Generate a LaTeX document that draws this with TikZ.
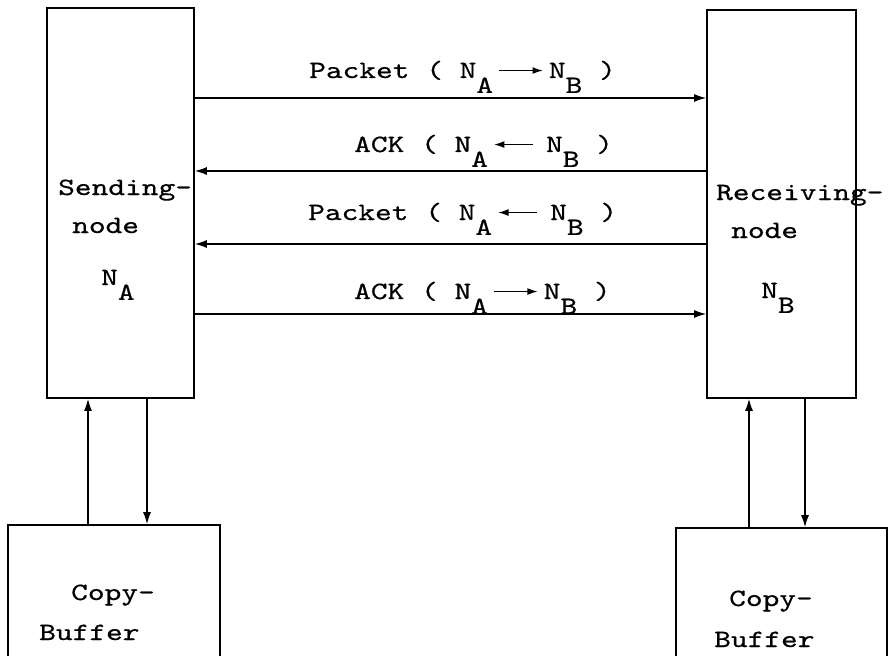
\documentclass[tikz,border=0pt]{standalone}
\usepackage{fontspec}
\setmonofont{lmmono10-regular.otf}[FakeBold=0.5]
\usepackage{graphicx}
\usetikzlibrary{arrows.meta,positioning}
\newcommand{\tw}[1]{\scalebox{1.28}[1]{#1}}
\newcommand{\lowsub}[1]{\raisebox{-0.6em}{#1}}
\newcommand{\rarr}{\,\tikz[baseline=-0.3em]\draw[-{Latex[length=8pt,width=7pt]}, line width=1.3pt] (0pt,0pt) -- (34pt,0pt);\,}
\newcommand{\larr}{\,\tikz[baseline=-0.3em]\draw[{Latex[length=8pt,width=7pt]}-, line width=1.3pt] (0pt,0pt) -- (30pt,0pt);\hspace{0.4em}}

\begin{document}
\begin{tikzpicture}[
    x=1pt, y=-1pt,
    box/.style={
        draw,
        line width=1.6pt,
        inner sep=0pt
    },
    txt/.style={
        font=\ttfamily\fontsize{24.88}{30}\selectfont,
        inner sep=0pt,
        anchor=base west
    },
    arrow/.style={-{Latex[length=12pt,width=8pt]}, line width=1.4pt}
]
    \clip (0,0) rectangle (890,655);

    % station boxes
    \node[box, minimum width=147pt, minimum height=390pt] (send) at (120.5,203) {};
    \node[box, minimum width=149pt, minimum height=388pt] (recv) at (781.5,204) {};
    \node[box, minimum width=212pt, minimum height=200pt] (bufA) at (114,625) {};
    \node[box, minimum width=211pt, minimum height=200pt] (bufB) at (781.5,628) {};

    \node[txt] (sendname) at (58,195) {\tw{Sending-}};
    \node[txt] (sendnode) at (72,233) {\tw{node}};
    \node[txt] (sendid) at (101,285) {\tw{N\lowsub{A}}};

    \node[txt] (recvname) at (716,200) {\tw{Receiving-}};
    \node[txt] (recvnode) at (731,238) {\tw{node}};
    \node[txt] (recvid) at (761,298) {\tw{N\lowsub{B}}};

    \node[txt] (bufAcopy) at (71,600) {\tw{Copy-}};
    \node[txt] (bufAname) at (39,640) {\tw{Buffer}};
    \node[txt] (bufBcopy) at (729,606) {\tw{Copy-}};
    \node[txt] (bufBname) at (714,647) {\tw{Buffer}};

    % messages
    \node[txt] (pktab) at (309,78) {\tw{Packet ( N\lowsub{A}\rarr N\lowsub{B} )}};
    \node[txt] (ackba) at (354,152) {\tw{ACK ( N\lowsub{A}\larr N\lowsub{B} )}};
    \node[txt] (pktba) at (308,220) {\tw{Packet ( N\lowsub{A}\larr N\lowsub{B} )}};
    \node[txt] (ackab) at (354,299) {\tw{ACK ( N\lowsub{A}\rarr N\lowsub{B} )}};

    \draw[arrow] (send.east |- 0,98) -- (recv.west |- 0,98);
    \draw[arrow] (recv.west |- 0,171) -- (send.east |- 0,171);
    \draw[arrow] (recv.west |- 0,244) -- (send.east |- 0,244);
    \draw[arrow] (send.east |- 0,314) -- (recv.west |- 0,314);

    % copy buffers
    \draw[arrow] (bufA.north -| 88,0) -- (send.south -| 88,0);
    \draw[arrow] (send.south -| 147,0) -- (bufA.north -| 147,0);
    \draw[arrow] (bufB.north -| 749,0) -- (recv.south -| 749,0);
    \draw[arrow] (recv.south -| 805,0) -- (bufB.north -| 805,0);
\end{tikzpicture}
\end{document}
